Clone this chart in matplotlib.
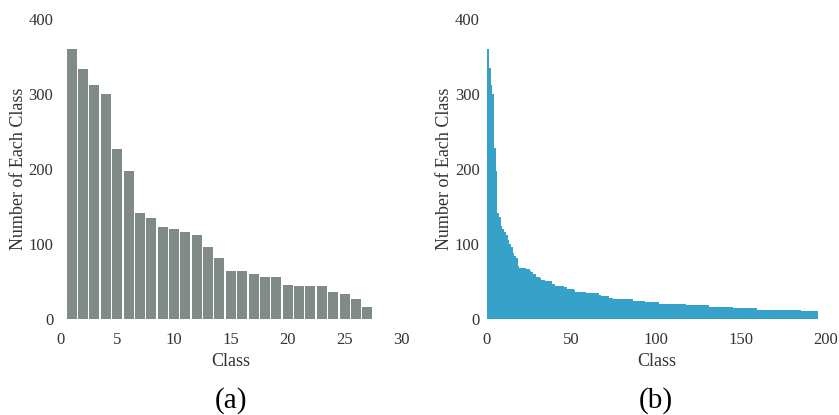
import matplotlib
matplotlib.use("Agg")
import matplotlib.pyplot as plt
import numpy as np

# ---- data ----
classes_a = list(range(1, 28))
counts_a = [360, 334, 312, 300, 227, 197, 141, 135, 123, 120, 116, 112, 96, 81,
            65, 65, 60, 56, 56, 46, 44, 44, 44, 36, 34, 27, 17]

counts_b = [360, 334, 312, 300, 227, 197, 141, 135, 123, 120,
            116, 112, 105, 99, 96, 88, 84, 81, 71, 68,
            68, 68, 68, 66, 66, 64, 63, 60, 60, 56,
            56, 55, 52, 52, 50, 50, 50, 50, 47, 46,
            44, 44, 44, 44, 44, 43, 42, 40, 40, 40,
            40, 39, 36, 36, 36, 36, 36, 36, 35, 35,
            35, 34, 34, 34, 34, 34, 32, 31, 31, 31,
            30, 30, 28, 28, 27, 27, 27, 27, 27, 27,
            27, 27, 26, 26, 26, 26, 24, 24, 24, 24,
            24, 24, 24, 23, 23, 23, 22, 22, 22, 22,
            22, 20, 20, 20, 20, 20, 20, 20, 20, 20,
            20, 20, 20, 20, 20, 20, 20, 19, 19, 19,
            19, 19, 19, 19, 19, 18, 18, 18, 18, 18,
            18, 16, 16, 16, 16, 16, 16, 16, 16, 16,
            16, 16, 16, 16, 16, 15, 15, 15, 15, 15,
            15, 14, 14, 14, 14, 14, 14, 14, 14, 12,
            12, 12, 12, 12, 12, 12, 12, 12, 12, 12,
            12, 12, 12, 12, 12, 12, 12, 12, 12, 12,
            12, 12, 12, 12, 12, 11, 11, 11, 10, 10,
            10, 10, 10, 10, 10]
classes_b = list(range(len(counts_b)))

yticks = [0, 100, 200, 300, 400]
xticks_a = [0, 5, 10, 15, 20, 25, 30]
xticks_b = [0, 50, 100, 150, 200]

# ---- style ----
plt.rcParams['font.family'] = ['Liberation Serif', 'DejaVu Serif']
color_a = '#808a86'
color_b = '#36a2ca'
tick_color = '#333333'

fig = plt.figure(figsize=(8.39, 4.15), dpi=100)
ax1 = fig.add_axes([0.0719, 0.2306, 0.4065, 0.7236])
ax2 = fig.add_axes([0.5801, 0.2306, 0.4044, 0.7236])

ax1.bar(classes_a, counts_a, width=0.88, color=color_a, linewidth=0)
ax2.bar(classes_b, counts_b, width=1.0, align='edge', color=color_b,
        linewidth=0, snap=False, antialiased=False)

for ax, xt, lim in ((ax1, xticks_a, 30), (ax2, xticks_b, 200)):
    ax.set_xlim(0, lim)
    ax.set_ylim(0, 400)
    ax.set_xticks(xt)
    ax.set_yticks(yticks)
    for s in ax.spines.values():
        s.set_visible(False)
    ax.tick_params(axis='both', length=0, labelsize=12, colors=tick_color)
    ax.tick_params(axis='x', pad=9)
    ax.tick_params(axis='y', pad=5)
    ax.set_xlabel('Class', fontsize=13, color=tick_color, labelpad=4)
    ax.set_ylabel('Number of Each Class', fontsize=13, color=tick_color, labelpad=1)

fig.text(0.2752, 0.036, '(a)', ha='center', va='center', fontsize=21, color='black')
fig.text(0.7822, 0.036, '(b)', ha='center', va='center', fontsize=21, color='black')

fig.savefig('out.png', dpi=100)
